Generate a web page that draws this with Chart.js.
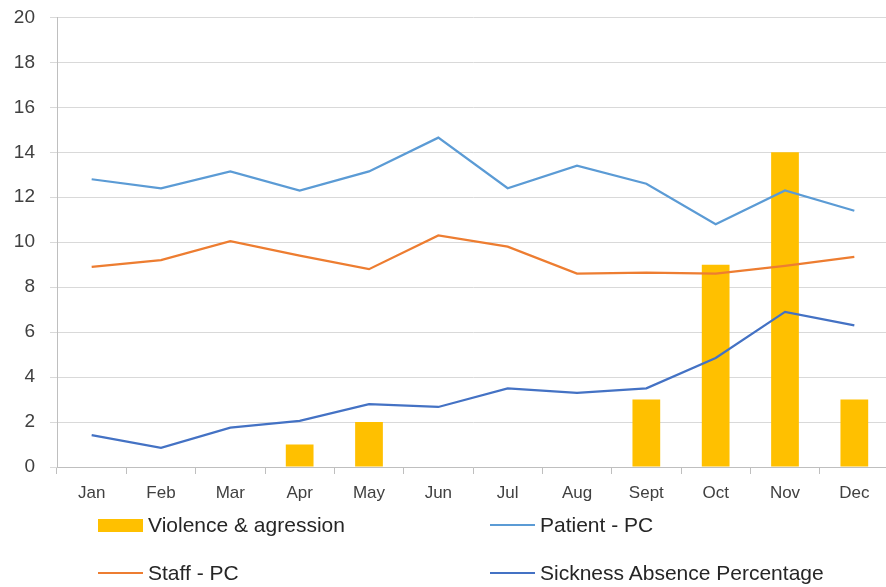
<!DOCTYPE html>
<html>
<head>
<meta charset="utf-8">
<script src="https://cdn.jsdelivr.net/npm/chart.js@4.4.1/dist/chart.umd.min.js"></script>
<style>
  html, body { margin: 0; padding: 0; background: #fff; overflow: hidden; width: 886px; height: 587px; }
  #wrap { position: absolute; left: 0; top: -9px; width: 889px; height: 519px; }
  #legend { position: absolute; left: 0; top: 0; width: 886px; height: 587px; pointer-events: none;
            font-family: "Liberation Sans", Arial, sans-serif; font-size: 21px; color: #262626; }
  .item { position: absolute; display: flex; align-items: center; height: 30px; white-space: nowrap; }
  .sw { width: 45px; margin-right: 5px; }
</style>
</head>
<body>
<div id="wrap"><canvas id="c"></canvas></div>
<div id="legend"></div>
<script>
// Monthly categories
const months = ["Jan", "Feb", "Mar", "Apr", "May", "Jun", "Jul", "Aug", "Sept", "Oct", "Nov", "Dec"];

// Incident counts (bars)
const violence = [null, null, null, 1, 2, null, null, null, 3, 9, 14, 3];

// Percentages (lines)
const patientPC = [12.8, 12.4, 13.15, 12.3, 13.15, 14.65, 12.4, 13.4, 12.6, 10.8, 12.3, 11.4];
const staffPC = [8.9, 9.2, 10.05, 9.4, 8.8, 10.3, 9.8, 8.6, 8.65, 8.6, 8.95, 9.35];
const sicknessPC = [1.42, 0.85, 1.75, 2.05, 2.8, 2.67, 3.5, 3.3, 3.5, 4.85, 6.9, 6.3];

// Value axis ticks
const yTicks = [0, 2, 4, 6, 8, 10, 12, 14, 16, 18, 20];

const seriesNames = ["Violence & agression", "Patient - PC", "Staff - PC", "Sickness Absence Percentage"];
const colors = { bar: "#FFC000", patient: "#5B9BD5", staff: "#ED7D31", sickness: "#4472C4" };

const datasets = [
  { type: "bar", label: seriesNames[0], data: violence, backgroundColor: colors.bar,
    barPercentage: 0.4, categoryPercentage: 1.0, order: 2 },
  { type: "line", label: seriesNames[1], data: patientPC, borderColor: colors.patient,
    borderWidth: 2.25, pointRadius: 0, tension: 0, fill: false, order: 1 },
  { type: "line", label: seriesNames[2], data: staffPC, borderColor: colors.staff,
    borderWidth: 2.25, pointRadius: 0, tension: 0, fill: false, order: 1 },
  { type: "line", label: seriesNames[3], data: sicknessPC, borderColor: colors.sickness,
    borderWidth: 2.25, pointRadius: 0, tension: 0, fill: false, order: 1 }
];

const fontFamily = '"Liberation Sans", Arial, sans-serif';

new Chart(document.getElementById("c"), {
  data: { labels: months, datasets: datasets },
  options: {
    responsive: true,
    maintainAspectRatio: false,
    animation: false,
    devicePixelRatio: 1,
    layout: { padding: { top: 8, left: 0, right: 0, bottom: 0 } },
    plugins: { legend: { display: false }, tooltip: { enabled: false } },
    scales: {
      x: {
        offset: true,
        grid: { display: true, drawOnChartArea: false, drawTicks: true, tickLength: 7,
                offset: true, color: "#bfbfbf" },
        border: { display: true, color: "#bfbfbf", width: 1 },
        ticks: { color: "#404040", font: { family: fontFamily, size: 17 }, padding: 9,
                 maxRotation: 0, autoSkip: false },
        afterFit: (s) => { s.height = 43; }
      },
      y: {
        min: yTicks[0],
        max: yTicks[yTicks.length - 1],
        afterBuildTicks: (s) => { s.ticks = yTicks.map(v => ({ value: v })); },
        grid: { color: "#d9d9d9", drawTicks: true, tickLength: 7 },
        border: { display: true, color: "#bfbfbf", width: 1 },
        ticks: { color: "#404040", font: { family: fontFamily, size: 19 }, padding: 15 },
        afterFit: (s) => { s.width = 57; }
      }
    }
  }
});

// Two-column legend beneath the chart, built from the same series
const legendPos = [
  { x: 98, y: 525 }, { x: 490, y: 525 },
  { x: 98, y: 573 }, { x: 490, y: 573 }
];
const legend = document.getElementById("legend");
datasets.forEach((ds, i) => {
  const item = document.createElement("div");
  item.className = "item";
  item.style.left = legendPos[i].x + "px";
  item.style.top = (legendPos[i].y - 15) + "px";
  const sw = document.createElement("span");
  sw.className = "sw";
  if (ds.type === "bar") {
    sw.style.height = "13px";
    sw.style.background = ds.backgroundColor;
  } else {
    sw.style.height = "2.5px";
    sw.style.background = ds.borderColor;
  }
  const txt = document.createElement("span");
  txt.textContent = ds.label;
  item.appendChild(sw);
  item.appendChild(txt);
  legend.appendChild(item);
});
</script>
</body>
</html>
